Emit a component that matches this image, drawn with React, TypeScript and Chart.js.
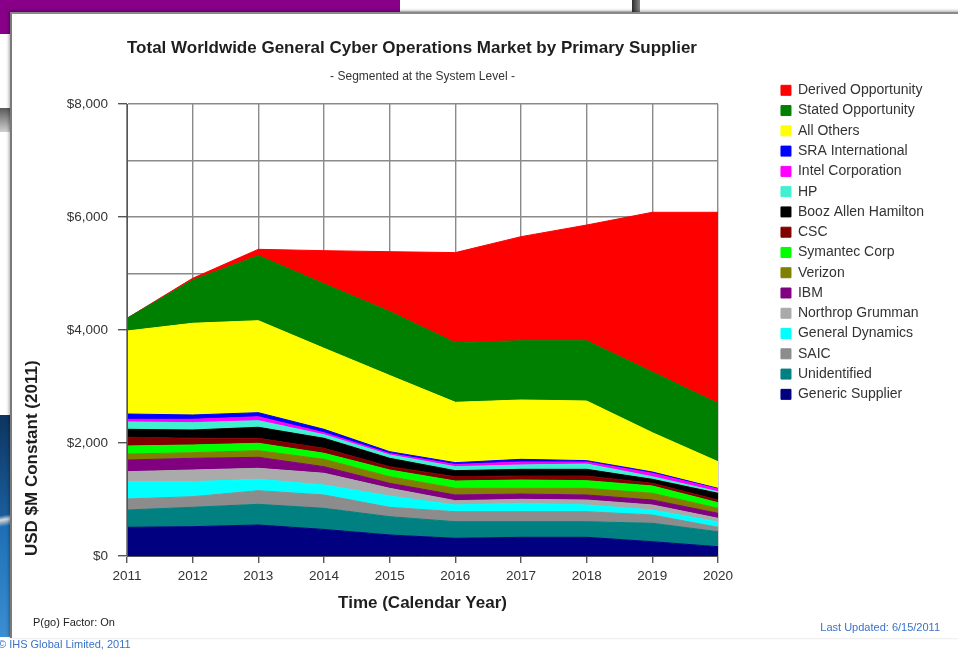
import React, { useEffect, useRef } from 'react';
import { Chart, registerables } from 'chart.js';

Chart.register(...registerables);

const FONT = "'Liberation Sans', Arial, Helvetica, sans-serif";

const chartTitle = 'Total Worldwide General Cyber Operations Market by Primary Supplier';
const chartSubtitle = '- Segmented at the System Level -';
const xAxisTitle = 'Time (Calendar Year)';
const yAxisTitle = 'USD $M Constant (2011)';

const years = ['2011', '2012', '2013', '2014', '2015', '2016', '2017', '2018', '2019', '2020'];

// Series listed bottom of the stack first
const genericSupplier = [508, 519, 549, 470, 372, 313, 331, 331, 253, 165];
const unidentified = [306, 343, 366, 374, 324, 294, 276, 276, 326, 265];
const saic = [195, 188, 241, 236, 166, 177, 177, 177, 147, 78];
const generalDynamics = [306, 265, 202, 177, 200, 119, 149, 119, 88, 94];
const northropGrumman = [177, 207, 194, 207, 136, 76, 70, 88, 89, 65];
const ibm = [207, 207, 195, 117, 89, 101, 94, 89, 88, 89];
const verizon = [106, 99, 117, 131, 117, 118, 101, 118, 119, 88];
const symantecCorp = [142, 137, 131, 106, 118, 129, 147, 135, 129, 100];
const csc = [154, 120, 88, 88, 59, 77, 71, 83, 48, 47];
const boozAllenHamilton = [141, 145, 195, 177, 148, 106, 118, 118, 70, 119];
const hp = [130, 130, 117, 64, 59, 71, 77, 94, 47, 28];
const intelCorporation = [47, 59, 70, 35, 26, 39, 53, 36, 60, 48];
const sraInternational = [94, 77, 72, 60, 32, 32, 47, 24, 23, 12];
const allOthers = [1469, 1623, 1628, 1434, 1349, 1068, 1050, 1055, 696, 471];
const statedOpportunity = [225, 766, 1151, 1142, 1132, 1056, 1050, 1068, 1074, 1033];
const derivedOpportunity = [0, 30, 112, 586, 1059, 1594, 1841, 2047, 2826, 3381];

const seriesNames = [
  'Generic Supplier', 'Unidentified', 'SAIC', 'General Dynamics', 'Northrop Grumman', 'IBM',
  'Verizon', 'Symantec Corp', 'CSC', 'Booz Allen Hamilton', 'HP', 'Intel Corporation',
  'SRA International', 'All Others', 'Stated Opportunity', 'Derived Opportunity',
];
const seriesValues = [
  genericSupplier, unidentified, saic, generalDynamics, northropGrumman, ibm,
  verizon, symantecCorp, csc, boozAllenHamilton, hp, intelCorporation,
  sraInternational, allOthers, statedOpportunity, derivedOpportunity,
];
const seriesColors = [
  '#000080', '#008080', '#8c8c8c', '#00ffff', '#aaaaaa', '#800080',
  '#808000', '#00ff00', '#800000', '#000000', '#40f0d0', '#ff00ff',
  '#0000ff', '#ffff00', '#008000', '#ff0000',
];

const yMax = 8000;
const yStep = 1000;
const yLabelStep = 2000;

const GRID = '#8a8a8a';
const AXIS = '#555555';

export default function App() {
  const canvasRef = useRef<HTMLCanvasElement | null>(null);

  useEffect(() => {
    const canvas = canvasRef.current;
    if (!canvas) return;
    Chart.defaults.font.family = FONT;
    const datasets = seriesValues.map((data, i) => ({
      label: seriesNames[i],
      data,
      backgroundColor: seriesColors[i],
      borderColor: seriesColors[i],
      borderWidth: 1,
      pointRadius: 0,
      pointHoverRadius: 0,
      tension: 0,
      fill: i === 0 ? 'origin' : '-1',
    }));
    const chart = new Chart(canvas, {
      type: 'line',
      data: { labels: years, datasets },
      options: {
        responsive: false,
        maintainAspectRatio: false,
        animation: false,
        devicePixelRatio: 1,
        events: [],
        layout: { padding: { top: 28, left: 13, right: 33.3, bottom: 0 } },
        plugins: {
          title: {
            display: true,
            text: chartTitle,
            align: 'start',
            fullSize: false,
            color: '#1e1e1e',
            font: { size: 17, weight: 'bold', family: FONT },
            padding: { top: 9.8, bottom: 0 },
          },
          subtitle: {
            display: true,
            text: chartSubtitle,
            fullSize: false,
            color: '#333333',
            font: { size: 12, family: FONT },
            padding: { top: 11.1, bottom: 20.3 },
          },
          legend: {
            display: true,
            position: 'right',
            align: 'start',
            reverse: true,
            fullSize: true,
            maxWidth: 150,
            title: { display: true, text: '', font: { size: 12 }, padding: { top: 34.63, bottom: 0 } },
            labels: {
              boxWidth: 10,
              boxHeight: 10,
              padding: 6.27,
              color: '#333333',
              font: { size: 14, family: FONT },
            },
          },
          tooltip: { enabled: false },
        },
        scales: {
          x: {
            type: 'category',
            offset: false,
            grid: { color: GRID, lineWidth: 1.4, tickLength: 7, tickColor: AXIS },
            border: { color: AXIS, z: 1 },
            ticks: { color: '#333333', font: { size: 13.5 }, padding: 5.6, maxRotation: 0, autoSkip: false },
            title: {
              display: true,
              text: xAxisTitle,
              color: '#1e1e1e',
              font: { size: 17, weight: 'bold' },
              padding: { top: 0, bottom: 37.8 },
            },
            afterFit: (s: any) => { s.height = 95; },
          },
          y: {
            stacked: true,
            min: 0,
            max: yMax,
            grid: {
              color: GRID,
              lineWidth: 1.4,
              tickLength: 9,
              tickColor: (c: any) => (c.tick && c.tick.value % yLabelStep === 0 ? AXIS : 'rgba(0,0,0,0)'),
            },
            border: { color: AXIS, z: 1 },
            ticks: {
              stepSize: yStep,
              color: '#333333',
              font: { size: 13.5 },
              padding: 10,
              callback: (v: any) => (Number(v) % yLabelStep === 0 ? '$' + Number(v).toLocaleString('en-US') : ''),
            },
            title: {
              display: true,
              text: yAxisTitle,
              align: 'start',
              color: '#1e1e1e',
              font: { size: 17, weight: 'bold' },
              padding: { top: 9.3, bottom: 0 },
            },
            afterFit: (s: any) => { s.width = 114; },
          },
          gap: {
            type: 'linear',
            position: 'right',
            display: true,
            grid: { display: false, drawTicks: false },
            border: { display: false },
            ticks: { display: false },
            afterFit: (s: any) => { s.width = 56.7; },
          },
        },
      },
    } as any);
    return () => chart.destroy();
  }, []);

  const abs = (s: React.CSSProperties): React.CSSProperties => ({ position: 'absolute', ...s });

  return (
    <div style={{ position: 'fixed', left: 0, top: 0, width: 958, height: 651, overflow: 'hidden', background: '#ffffff', fontFamily: FONT }}>
      <div style={abs({ left: 0, top: 0, width: 400, height: 34, background: '#870087' })} />
      <div style={abs({ left: 400, top: 0, width: 232, height: 11, background: '#ffffff', borderBottom: '1px solid #d8d8d8' })} />
      <div style={abs({ left: 632, top: 0, width: 8, height: 12, background: 'linear-gradient(90deg,#2e2e2e,#8a8a8a)' })} />
      <div style={abs({ left: 0, top: 108, width: 12, height: 24, background: 'linear-gradient(#5a5a5a,#d0d0d0)' })} />
      <div style={abs({ left: 0, top: 415, width: 12, height: 222, background: 'linear-gradient(170deg,#0c355f 0%,#1a5d9c 45%,#d8d8d8 47%,#1e6fb5 50%,#3b8fd2 100%)' })} />
      <div style={abs({ left: 10, top: 12, width: 960, height: 624, background: '#ffffff', borderLeft: '2px solid #7a7a7a', borderTop: '2px solid #8a8a8a', boxShadow: '-1px -1px 3px rgba(0,0,0,0.35)' })} />
      <canvas ref={canvasRef} width={958} height={651} style={abs({ left: 0, top: 0, width: 958, height: 651 })} />
      <div style={abs({ left: 33, top: 616, fontSize: 11, color: '#222222', whiteSpace: 'nowrap' })}>P(go) Factor: On</div>
      <div style={abs({ right: 18, top: 621, fontSize: 11, color: '#3a72c6', whiteSpace: 'nowrap' })}>Last Updated: 6/15/2011</div>
      <div style={abs({ left: -2, top: 638, fontSize: 11, color: '#3a72c6', whiteSpace: 'nowrap' })}>© IHS Global Limited, 2011</div>
    </div>
  );
}
